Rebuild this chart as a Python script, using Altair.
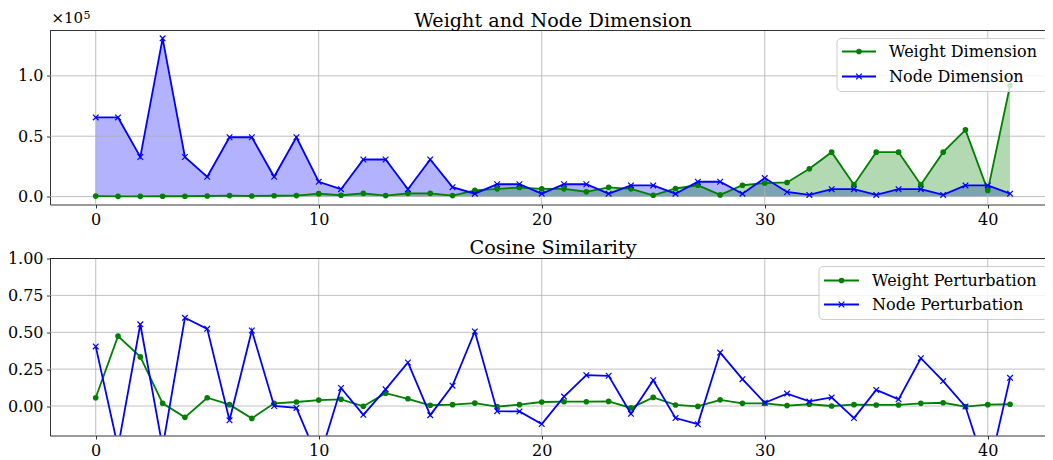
import altair as alt
import pandas as pd

# ---------------- data ----------------
steps = list(range(42))

weight_dim = [400, 200, 200, 300, 300, 500, 800, 500, 700, 800,
              2400, 1100, 2700, 800, 2700, 2700, 800, 5100, 6400, 7500,
              6400, 6400, 4000, 7700, 6400, 1100, 6700, 9400, 1400, 9400,
              11200, 11700, 23000, 36800, 9900, 36800, 36800, 9900, 36800, 55200,
              5100, 92000]
node_dim = [65536, 65536, 32768, 131072, 32768, 16384, 49152, 49152, 16384, 49152,
            12288, 6144, 30720, 30720, 6144, 30720, 7800, 2400, 10240, 10240,
            2400, 10240, 10240, 2400, 9216, 9216, 2400, 12288, 12288, 2400,
            15360, 3800, 1400, 6144, 6144, 1400, 6144, 6144, 1400, 9216,
            9216, 2400]

weight_cos = [0.056, 0.474, 0.333, 0.018, -0.077, 0.056, 0.009, -0.084, 0.018, 0.027,
              0.040, 0.045, -0.002, 0.087, 0.049, 0.005, 0.009, 0.020, -0.004, 0.009,
              0.027, 0.029, 0.029, 0.031, -0.013, 0.058, 0.007, -0.003, 0.042, 0.018,
              0.018, 0.003, 0.012, 0.000, 0.009, 0.007, 0.007, 0.018, 0.022, -0.004,
              0.009, 0.012]
node_cos = [0.404, -0.28, 0.554, -0.28, 0.598, 0.523, -0.097, 0.512, 0.000, -0.013,
            -0.37, 0.122, -0.060, 0.113, 0.295, -0.062, 0.138, 0.505, -0.035, -0.037,
            -0.122, 0.064, 0.209, 0.205, -0.053, 0.175, -0.082, -0.123, 0.362, 0.182,
            0.022, 0.084, 0.031, 0.058, -0.082, 0.109, 0.045, 0.324, 0.169, -0.004,
            -0.47, 0.191]

x_ticks = [0, 10, 20, 30, 40]
top_y_ticks = [0, 50000, 100000]
bot_y_ticks = [0.0, 0.25, 0.5, 0.75, 1.0]

top_title = "Weight and Node Dimension"
bot_title = "Cosine Similarity"
offset_base = "×10"
offset_exp = "5"
top_labels = ["Weight Dimension", "Node Dimension"]
bot_labels = ["Weight Perturbation", "Node Perturbation"]

# ---------------- styling ----------------
W = 1006
H_TOP, H_BOT = 174, 177
FONT = "DejaVu Serif"
GREEN, BLUE = "green", "blue"
GRID = "#b0b0b0"
XPATH = "M-1,-1L1,1M-1,1L1,-1"
X_DOMAIN = [-2.05, 43.06]
TOP_DOMAIN = [-6550, 137550]
BOT_DOMAIN = [-0.2, 1.0]

xscale = alt.Scale(domain=X_DOMAIN, nice=False, zero=False)
xaxis = alt.Axis(values=x_ticks, format="d", title=None)


def X(field):
    return alt.X(field, type="quantitative", scale=xscale, axis=xaxis)


def make_Y(domain, ticks, fmt=None, expr=None):
    scale = alt.Scale(domain=domain, nice=False, zero=False)
    kw = dict(values=ticks, title=None)
    if fmt:
        kw["format"] = fmt
    if expr:
        kw["labelExpr"] = expr
    axis = alt.Axis(**kw)

    def Y(field):
        return alt.Y(field, type="quantitative", scale=scale, axis=axis)
    return Y


def grid_layers(Y, yticks):
    gx = alt.Chart(pd.DataFrame({"gx": x_ticks})).mark_rule(
        color=GRID, strokeWidth=0.8).encode(x=X("gx"))
    gy = alt.Chart(pd.DataFrame({"gy": yticks})).mark_rule(
        color=GRID, strokeWidth=0.8).encode(y=Y("gy"))
    return [gx, gy]


def text_layer(txt, x, y, size, align="left", baseline="alphabetic"):
    return alt.Chart(pd.DataFrame({"t": [txt]})).mark_text(
        font=FONT, fontSize=size, align=align, baseline=baseline, color="black"
    ).encode(x=alt.value(x), y=alt.value(y), text="t:N")


def legend_layers(labels, box, rows, sx0, sx1, tx):
    one = pd.DataFrame({"k": [0]})
    out = [alt.Chart(one).mark_rect(
        fill="white", fillOpacity=0.8, stroke="#cccccc", strokeWidth=1, cornerRadius=4
    ).encode(x=alt.value(box[0]), x2=alt.value(box[1]),
             y=alt.value(box[2]), y2=alt.value(box[3]))]
    specs = [(GREEN, "circle", True), (BLUE, XPATH, False)]
    for lab, ry, (col, shp, filled) in zip(labels, rows, specs):
        out.append(alt.Chart(one).mark_rule(color=col, strokeWidth=1.8).encode(
            x=alt.value(sx0), x2=alt.value(sx1), y=alt.value(ry)))
        out.append(alt.Chart(one).mark_point(
            shape=shp, filled=filled, size=32, color=col, opacity=1,
            strokeWidth=1.2 if not filled else 0).encode(
            x=alt.value((sx0 + sx1) / 2), y=alt.value(ry)))
        out.append(text_layer(lab, tx, ry, 16, baseline="middle"))
    return out


def series_layers(base, Y, field, col, marker):
    line = base.mark_line(color=col, strokeWidth=1.8, clip=True).encode(x=X("step"), y=Y(field))
    if marker == "circle":
        pts = base.mark_point(shape="circle", filled=True, size=32, color=col,
                              opacity=1, strokeWidth=0, clip=True)
    else:
        pts = base.mark_point(shape=XPATH, filled=False, size=32, color=col,
                              opacity=1, strokeWidth=1.2, clip=True)
    return [line, pts.encode(x=X("step"), y=Y(field))]


spine = alt.Chart(pd.DataFrame({"k": [0]})).mark_rule(color="black", strokeWidth=0.8).encode(
    x=alt.value(0), x2=alt.value(W), y=alt.value(0))

# ---------------- top panel ----------------
Yt = make_Y(TOP_DOMAIN, top_y_ticks, expr="format(datum.value / 100000, '.1f')")
dft = pd.DataFrame({"step": steps, "weight": weight_dim, "node": node_dim})
bt = alt.Chart(dft)
area_node = bt.mark_area(color=BLUE, opacity=0.3).encode(x=X("step"), y=Yt("node"), y2=alt.datum(0))
area_w = bt.mark_area(color=GREEN, opacity=0.3).encode(x=X("step"), y=Yt("weight"), y2=alt.datum(0))

top = alt.layer(
    area_node, area_w,
    *grid_layers(Yt, top_y_ticks),
    *series_layers(bt, Yt, "weight", GREEN, "circle"),
    *series_layers(bt, Yt, "node", BLUE, "x"),
    spine,
    text_layer(top_title, W / 2, -4, 19.2, align="center"),
    text_layer(offset_base, 1.5, -7.5, 15),
    text_layer(offset_exp, 33.5, -11.5, 11),
    *legend_layers(top_labels, (787, 998, 8, 61), (21, 46), 792, 826, 839),
).properties(width=W, height=H_TOP)

# ---------------- bottom panel ----------------
Yb = make_Y(BOT_DOMAIN, bot_y_ticks, fmt=".2f")
dfb = pd.DataFrame({"step": steps, "weight": weight_cos, "node": node_cos})
bb = alt.Chart(dfb)

bottom = alt.layer(
    *grid_layers(Yb, bot_y_ticks),
    *series_layers(bb, Yb, "weight", GREEN, "circle"),
    *series_layers(bb, Yb, "node", BLUE, "x"),
    spine,
    text_layer(bot_title, W / 2, -5, 19.2, align="center"),
    *legend_layers(bot_labels, (769, 997, 8, 61), (22, 46), 774, 809, 822),
).properties(width=W, height=H_BOT)

chart = alt.vconcat(top, bottom, spacing=54, bounds="flush").properties(
    padding={"left": -1, "top": 1.5, "right": -12, "bottom": 0}
).configure_view(stroke=None).configure_axis(
    labelFont=FONT, labelFontSize=16, labelColor="black",
    tickColor="black", tickSize=3.5, tickWidth=0.8, labelPadding=3.5,
    domainColor="black", domainWidth=0.8, grid=False, zindex=1,
)

chart.save("out.html", embed_options={"renderer": "svg", "actions": False})
